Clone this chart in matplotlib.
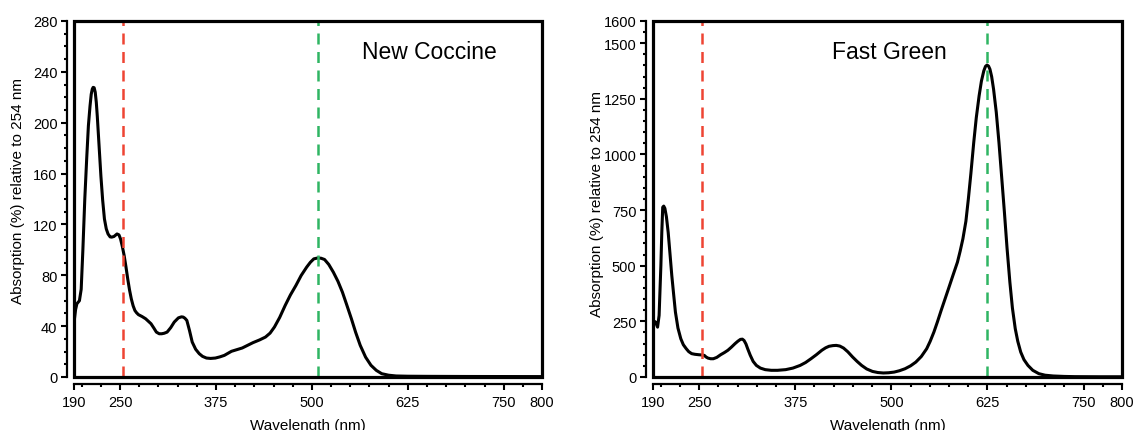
import matplotlib
matplotlib.use('Agg')
import matplotlib.pyplot as plt
from matplotlib.patches import Rectangle
from matplotlib.ticker import FixedLocator

plt.rcParams['font.family'] = ['Liberation Sans', 'DejaVu Sans']

# New Coccine spectrum (wavelength nm, absorption % rel. 254 nm)
nc_wl = [190, 192, 193.7, 197, 199.3, 201.5, 204, 206.5, 208.7, 210.8, 212.4, 213.8,
         214.9, 216.2, 217.6, 219, 220.3, 222.5, 225, 227.3, 229.6, 232, 234.3, 237,
         239, 242, 246, 248.5, 250.6, 253, 255.3, 257.7, 260, 262.3, 264.6, 267,
         269.3, 271.5, 274, 278.5, 283.3, 290.3, 294, 297.3, 301, 304.3, 307.5,
         311.3, 316, 320.6, 326, 330, 332.3, 334.5, 337, 340.5, 344, 348.5, 353.2,
         357.5, 362.6, 368, 374.2, 380, 385.9, 395.2, 409.2, 423.2, 432, 439.5,
         445.5, 451.2, 458, 465.2, 472, 479.2, 486, 493.2, 498, 502.5, 507.6, 512,
         516.5, 522, 528, 534, 539.8, 545.5, 551.5, 557, 563, 570, 577, 584, 591,
         600, 609.8, 625, 651.7, 700, 800]
nc_abs = [43, 53, 57.6, 60, 69, 100, 140, 172, 197.6, 213, 222.4, 226.5,
          227.8, 227.5, 224, 216, 205, 183, 158, 139, 124.3, 116.5, 112.5, 110.2,
          110, 110.5, 112.5, 111.8, 108.6, 102.5, 95.5, 86.5, 77, 68.5, 61.5, 56,
          52.3, 50.5, 49, 47.6, 45.8, 41.9, 38.5, 35.3, 34, 34, 34.4,
          35.3, 38.8, 43.2, 46.5, 47.3, 47.1, 46.2, 44.5, 36.5, 27.5, 21.8, 18.3,
          16.2, 14.9, 14.6, 14.9, 15.8, 17, 20.2, 22.8, 27, 29.2, 31.4,
          34.5, 39.3, 46.8, 56.3, 64.5, 72, 79.8, 86.4, 90.2, 92.9, 93.6, 93.4,
          92.4, 88.5, 82.4, 75.2, 66.7, 56.6, 45.8, 35.2, 24.9, 15.6, 9.2, 5.2, 2.6,
          1.4, 0.8, 0.6, 0.5, 0.4, 0.3]

# Fast Green spectrum
fg_wl = [190, 193.3, 196, 198, 200.3, 201.5, 202.7, 204, 205.5, 207.5, 209.8, 212,
         214.5, 216.8, 219.2, 222.5, 226.2, 229.5, 233.3, 236.5, 240.3, 244.5,
         249.7, 253.5, 256.8, 259, 261.5, 265, 268.5, 273, 278, 283, 287.4, 292,
         296.8, 300.5, 303.8, 306.3, 308.5, 311, 313.2, 316.5, 320.3, 324.5, 329.7,
         336, 343.8, 352, 362.6, 372, 381.4, 388.5, 395.5, 402.5, 409.6, 414.5,
         419, 424, 428.4, 433, 437.9, 443.5, 449.6, 455.5, 461.4, 468, 475.5, 482.5,
         489.6, 496.5, 503.7, 510.5, 517.8, 525, 531.9, 539, 546, 550.5, 555.4,
         560, 564.8, 569.5, 574.3, 580, 586, 589.5, 593.1, 597, 600.2, 603.5, 607.2,
         610.5, 614.2, 617.2, 620.3, 622.5, 624.5, 626.5, 628.3, 630.5, 633, 636.5,
         640, 643.5, 647.1, 650.5, 654.2, 657.5, 661.2, 664.5, 668.3, 672.5, 677.7,
         684, 691.8, 700, 710.6, 725, 738.8, 770, 800]
fg_abs = [254, 247, 224, 277, 501, 650, 763, 768, 758, 720, 650, 560,
          456, 375, 292, 220, 172, 145, 127, 114, 105, 102,
          100, 99, 97, 90, 85, 82, 82, 88, 100, 110, 120, 134,
          150, 161, 169, 170, 164, 148, 127, 98, 70, 52, 40,
          33, 30, 30, 33, 40, 52, 65, 82, 100, 120, 131,
          138, 141, 142, 139, 130, 113, 90, 70, 52, 36, 25, 20,
          18, 19, 22, 28, 37, 50, 67, 92, 127, 160, 202,
          248, 299, 347, 396, 455, 516, 565, 621, 700, 800, 915, 1054,
          1165, 1264, 1330, 1376, 1396, 1402, 1397, 1383, 1350, 1293, 1190,
          1054, 900, 740, 580, 426, 310, 217, 160, 112, 78, 52,
          30, 15, 8, 4.5, 2.5, 1.5, 1, 1]

names = ['New Coccine', 'Fast Green']
ref_line = [254, 254]
max_line = [508, 624]
y_max = [280, 1600]
y_major = [[0, 40, 80, 120, 160, 200, 240, 280],
           [0, 250, 500, 750, 1000, 1250, 1500, 1600]]
y_minor_step = [10, 50]
x_major = [190, 250, 375, 500, 625, 750, 800]
x_minor = [200] + list(range(225, 800, 25))

fig = plt.figure(figsize=(11.34, 4.31), dpi=100)
axes = [fig.add_axes([0.0653, 0.123, 0.4127, 0.826]),
        fig.add_axes([0.5758, 0.123, 0.4136, 0.826])]
title_x = [0.76, 0.503]
ylabel_y = [0.525, 0.49]

for i, ax in enumerate(axes):
    wl, ab = (nc_wl, nc_abs) if i == 0 else (fg_wl, fg_abs)
    ax.plot(wl, ab, color='black', lw=2.2, zorder=2,
            solid_joinstyle='round', solid_capstyle='round')
    ax.axvline(ref_line[i], color='#ee4433', lw=1.8, dashes=(4.4, 3.0), zorder=3)
    ax.axvline(max_line[i], color='#2fb563', lw=1.8, dashes=(4.4, 3.0), zorder=3)

    ax.set_xlim(190, 800)
    ax.set_ylim(0, y_max[i])

    # frame box
    ax.add_patch(Rectangle((0, 0), 1, 1, transform=ax.transAxes, fill=False,
                           lw=2.3, ec='black', clip_on=False, zorder=4))
    ax.spines['top'].set_visible(False)
    ax.spines['right'].set_visible(False)
    for s in ['left', 'bottom']:
        ax.spines[s].set_position(('outward', 5))
        ax.spines[s].set_linewidth(1.6)

    ax.xaxis.set_major_locator(FixedLocator(x_major))
    ax.xaxis.set_minor_locator(FixedLocator(x_minor))
    ax.yaxis.set_major_locator(FixedLocator(y_major[i]))
    ax.yaxis.set_minor_locator(FixedLocator(list(range(0, y_max[i] + 1, y_minor_step[i]))))
    ax.tick_params(which='major', length=4.5, width=1.5, labelsize=10.5)
    ax.tick_params(which='minor', length=2.3, width=1.5)
    ax.tick_params(axis='x', which='major', pad=3.5)
    ax.tick_params(axis='y', which='major', pad=2.5)

    ax.set_xlabel('Wavelength (nm)', fontsize=11, va='baseline')
    ax.xaxis.set_label_coords(0.5, -0.145)
    ax.set_ylabel('Absorption (%) relative to 254 nm', fontsize=11, va='center')
    ax.yaxis.set_label_coords(-0.12, ylabel_y[i])

    ax.text(title_x[i], 0.913, names[i], transform=ax.transAxes, fontsize=16.5,
            ha='center', va='center')

fig.savefig('out.png', dpi=100)
